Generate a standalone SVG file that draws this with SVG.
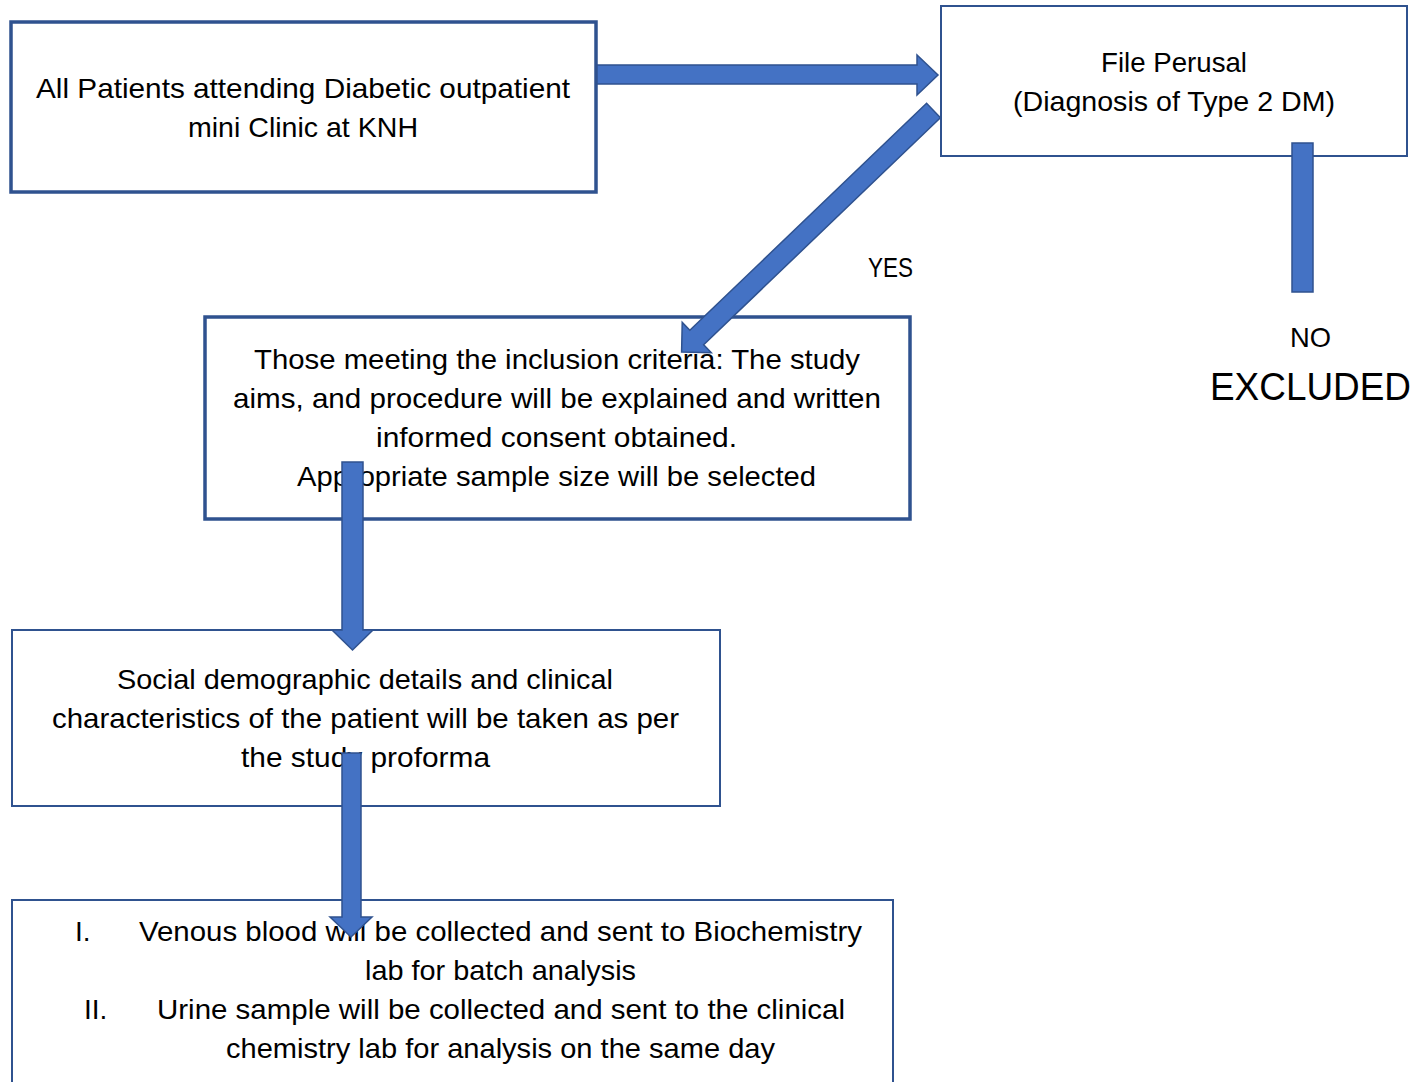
<svg xmlns="http://www.w3.org/2000/svg" width="1426" height="1082" viewBox="0 0 1426 1082">
<style>
.box{fill:#ffffff;stroke:#2F528F;stroke-width:2}
.thick{stroke-width:3.5}
.arr{fill:#4472C4;stroke:#2F528F;stroke-width:1.5;stroke-linejoin:miter}
text{font-family:"Liberation Sans",Arial,sans-serif;font-size:28px;fill:#000000}
.big{font-size:39px}
</style>
<rect width="1426" height="1082" fill="#ffffff"/>
<g id="node-patients">
<rect class="box thick" x="11" y="22" width="585" height="170"/>
<text x="36" y="98" textLength="534" lengthAdjust="spacingAndGlyphs">All Patients attending Diabetic outpatient</text>
<text x="188" y="137" textLength="230" lengthAdjust="spacingAndGlyphs">mini Clinic at KNH</text>
</g>
<g id="node-file">
<rect class="box" x="941" y="6" width="466" height="150"/>
<text x="1101" y="72" textLength="146" lengthAdjust="spacingAndGlyphs">File Perusal</text>
<text x="1013" y="111" textLength="322" lengthAdjust="spacingAndGlyphs">(Diagnosis of Type 2 DM)</text>
</g>
<g id="node-inclusion">
<rect class="box thick" x="205" y="317" width="705" height="202"/>
<text x="254" y="369" textLength="606" lengthAdjust="spacingAndGlyphs">Those meeting the inclusion criteria: The study</text>
<text x="233" y="408" textLength="648" lengthAdjust="spacingAndGlyphs">aims, and procedure will be explained and written</text>
<text x="376" y="447" textLength="361" lengthAdjust="spacingAndGlyphs">informed consent obtained.</text>
<text x="297" y="486" textLength="519" lengthAdjust="spacingAndGlyphs">Appropriate sample size will be selected</text>
</g>
<g id="node-social">
<rect class="box" x="12" y="630" width="708" height="176"/>
<text x="117" y="689" textLength="496" lengthAdjust="spacingAndGlyphs">Social demographic details and clinical</text>
<text x="52" y="728" textLength="627" lengthAdjust="spacingAndGlyphs">characteristics of the patient will be taken as per</text>
<text x="241" y="767" textLength="249" lengthAdjust="spacingAndGlyphs">the study proforma</text>
</g>
<g id="node-samples">
<rect class="box" x="12" y="900" width="881" height="200"/>
<text x="75" y="941">I.</text>
<text x="139" y="941" textLength="723" lengthAdjust="spacingAndGlyphs">Venous blood will be collected and sent to Biochemistry</text>
<text x="365" y="980" textLength="271" lengthAdjust="spacingAndGlyphs">lab for batch analysis</text>
<text x="84" y="1019">II.</text>
<text x="157" y="1019" textLength="688" lengthAdjust="spacingAndGlyphs">Urine sample will be collected and sent to the clinical</text>
<text x="226" y="1058" textLength="549" lengthAdjust="spacingAndGlyphs">chemistry lab for analysis on the same day</text>
</g>
<g id="node-excluded">
<text x="1290" y="347" textLength="41" lengthAdjust="spacingAndGlyphs">NO</text>
<text class="big" x="1210" y="400" textLength="201" lengthAdjust="spacingAndGlyphs">EXCLUDED</text>
</g>
<g id="connectors">
<polygon class="arr" points="597,65 917,65 917,55 938,75 917,95 917,84 597,84"/>
<polygon class="arr" transform="translate(933.5,110.5) rotate(136.2)" points="0,-10 328,-10 328,-21 349,0 328,21 328,10 0,10"/>
<rect class="arr" x="1292" y="143" width="21" height="149"/>
<polygon class="arr" points="342,462 363,462 363,630 373,630 352.5,650 332,630 342,630"/>
<polygon class="arr" points="342,753 361,753 361,917 372,917 351,937 330,917 342,917"/>
<text x="868" y="277" textLength="45" lengthAdjust="spacingAndGlyphs">YES</text>
</g>
</svg>
